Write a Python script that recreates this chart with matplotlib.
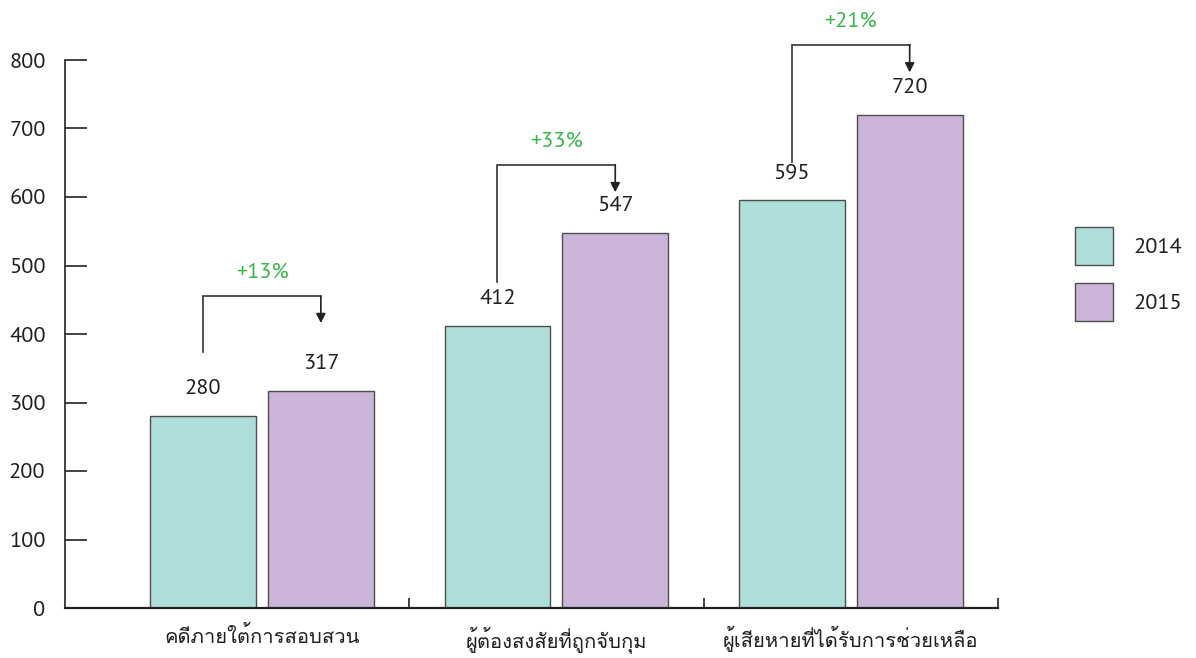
import matplotlib
matplotlib.use("Agg")
import matplotlib.pyplot as plt
from matplotlib import font_manager
from matplotlib.patches import Patch
import numpy as np

# ---- data ----
categories = ["คดีภายใต้การสอบสวน", "ผู้ต้องสงสัยที่ถูกจับกุม", "ผู้เสียหายที่ได้รับการช่วยเหลือ"]
years = ["2014", "2015"]
values_2014 = [280, 412, 595]
values_2015 = [317, 547, 720]
pct_labels = ["+13%", "+33%", "+21%"]
yticks = [0, 100, 200, 300, 400, 500, 600, 700, 800]

# bracket layout (data units): start height, top height, arrow tip height
bracket_start = [374, 476, 651]
bracket_top = [455, 647, 822]
bracket_tip = [416, 607, 782]


def static_regular(names):
    for n in names:
        for fe in font_manager.fontManager.ttflist:
            if (fe.name == n and fe.style == "normal" and fe.weight in (400, "normal", "regular")
                    and "[" not in fe.fname):
                return n, fe.fname
    return None, None


def first_available(names):
    for n in names:
        try:
            font_manager.findfont(font_manager.FontProperties(family=n), fallback_to_default=False)
            return n
        except Exception:
            continue
    return None

latin_name, latin_file = static_regular(["Source Sans 3", "Source Sans Pro", "PT Sans", "Open Sans"])
if latin_file:
    num_size = 17 if latin_name.startswith("Source") else (16 if latin_name == "PT Sans" else 15)
else:
    num_size = 15


def nfp(size):
    if latin_file:
        return font_manager.FontProperties(fname=latin_file, size=size)
    return font_manager.FontProperties(family=["Open Sans", "DejaVu Sans"], size=size)

thai_font = first_available(["Loma", "Noto Sans Thai", "Garuda", "Athiti"])
thai_family = [f for f in [thai_font, "Open Sans", "DejaVu Sans"] if f]
plt.rcParams["font.family"] = ["Open Sans", "DejaVu Sans"]

text_color = "#231F20"
green = "#39B54A"
c2014 = "#AEDED9"
c2015 = "#CAB4D8"
edge = "#4D4D4D"

fig = plt.figure(figsize=(11.96, 6.58), dpi=100)
ax = fig.add_axes([65/1196, 1 - 608/658, (998-65)/1196, 548/658])

x = np.arange(len(categories))
off = 0.2
w = 0.36
ax.bar(x - off, values_2014, w, color=c2014, edgecolor=edge, linewidth=1.0, zorder=2)
ax.bar(x + off, values_2015, w, color=c2015, edgecolor=edge, linewidth=1.0, zorder=2)

for i in range(len(categories)):
    ax.text(x[i] - off, values_2014[i] + 40, str(values_2014[i]), ha="center", va="center",
            fontproperties=nfp(num_size), color=text_color)
    ax.text(x[i] + off, values_2015[i] + 40, str(values_2015[i]), ha="center", va="center",
            fontproperties=nfp(num_size), color=text_color)
    x1, x2 = x[i] - off, x[i] + off
    ax.plot([x1, x1, x2], [bracket_start[i], bracket_top[i], bracket_top[i]],
            color="#333333", lw=1.2, clip_on=False, solid_joinstyle="miter")
    ax.annotate("", xy=(x2, bracket_tip[i]), xytext=(x2, bracket_top[i]),
                arrowprops=dict(arrowstyle="-|>,head_length=0.55,head_width=0.28",
                                color="#222222", lw=1.2, shrinkA=0, shrinkB=0),
                annotation_clip=False)
    ax.text((x1 + x2) / 2, bracket_top[i] + 35, pct_labels[i], ha="center", va="center",
            fontproperties=nfp(num_size), color=green, clip_on=False)

ax.set_xlim(-0.669, 2.5)
ax.set_ylim(0, 800)
ax.set_yticks(yticks)
ax.set_yticklabels([str(v) for v in yticks], color=text_color)
for lab in ax.get_yticklabels():
    lab.set_fontproperties(nfp(num_size))
ax.tick_params(axis="y", direction="in", length=16, width=1.2, pad=14, colors="#222222",
               labelcolor=text_color)

ax.set_xticks(x)
ax.set_xticklabels(categories, family=thai_family, fontsize=14.5, color=text_color)
ax.tick_params(axis="x", which="major", length=0, pad=13)
ax.set_xticks([0.5, 1.5, 2.5], minor=True)
ax.tick_params(axis="x", which="minor", direction="in", length=7, width=1.2, color="#222222")

for s in ["top", "right"]:
    ax.spines[s].set_visible(False)
ax.spines["left"].set_linewidth(1.2)
ax.spines["bottom"].set_linewidth(1.6)
ax.spines["left"].set_color("#222222")
ax.spines["bottom"].set_color("#222222")

handles = [Patch(facecolor=c2014, edgecolor=edge, linewidth=1.0),
           Patch(facecolor=c2015, edgecolor=edge, linewidth=1.0)]
fig.legend(handles, years, loc="center left", bbox_to_anchor=(1055/1196, 1 - 274/658),
           frameon=False, prop=nfp(num_size), handlelength=1.7, handleheight=2.2,
           labelspacing=0.85, handletextpad=0.95, labelcolor=text_color)

fig.savefig("out.png", dpi=100)
